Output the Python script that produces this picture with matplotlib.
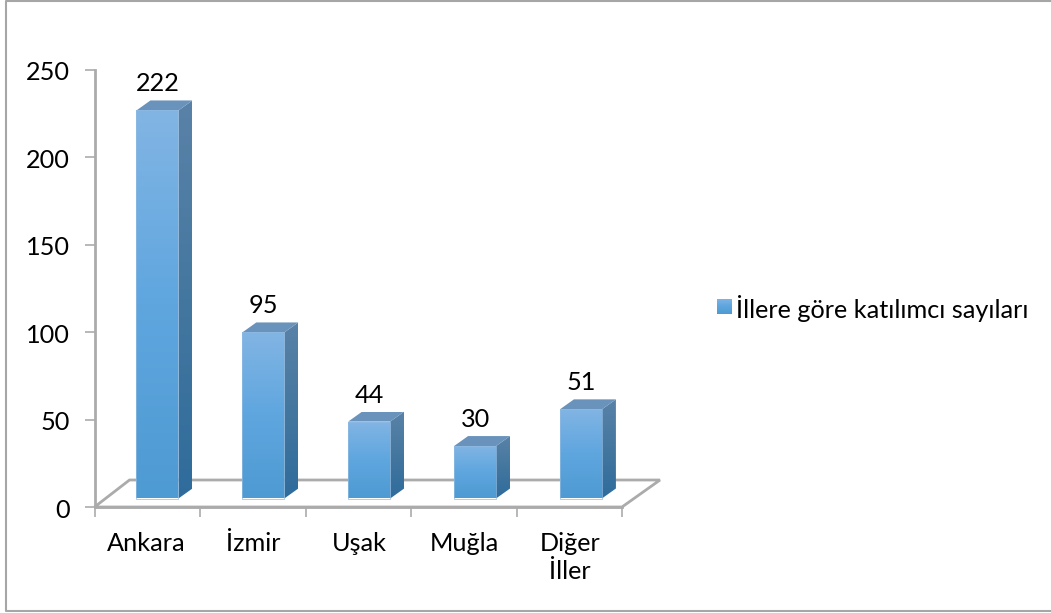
import numpy as np
import matplotlib
matplotlib.use("Agg")
import matplotlib.pyplot as plt
from matplotlib.colors import LinearSegmentedColormap
from matplotlib.lines import Line2D
from matplotlib.patches import Polygon, Rectangle
from matplotlib.transforms import ScaledTranslation

categories = ["Ankara", "İzmir", "Uşak", "Muğla", "Diğer\nİller"]
values = [222, 95, 44, 30, 51]
y_ticks = [0, 50, 100, 150, 200, 250]
series_name = "İllere göre katılımcı sayıları"
label_nudge_px = [1, 3, 3, 3, 3]

W, H = 1051, 613
FONT = "Lato"
GRAY = "#ABABAB"

fig = plt.figure(figsize=(W / 100, H / 100), dpi=100)
fig.patch.set_facecolor("white")

# frame: top, left and bottom edges only
fx = [W / W, 5.5 / W, 5.5 / W, W / W]
fy = [1 - 0.8 / H, 1 - 0.8 / H, 1 - 611 / H, 1 - 611 / H]
fig.add_artist(Line2D(fx, fy, color="#A6A6A6", lw=1.5, transform=fig.transFigure))

left, right, bottom, top = 94.5, 622, 507, 70
ax = fig.add_axes([left / W, 1 - bottom / H, (right - left) / W, (bottom - top) / H])
ax.set_xlim(-0.5, 4.5)
ax.set_ylim(0, 250)
ax.patch.set_visible(False)
for s in ("top", "right"):
    ax.spines[s].set_visible(False)
for s in ("left", "bottom"):
    ax.spines[s].set_color(GRAY)
    ax.spines[s].set_linewidth(2.0)
    ax.spines[s].set_zorder(1)

ax.set_yticks(y_ticks)
ax.set_xticks(np.arange(-0.5, 5, 1), labels=[])
ax.tick_params(axis="both", color=GRAY, width=1.2, length=7, labelsize=18.2,
               labelcolor="black", pad=3)
ax.tick_params(axis="y", pad=10.5)
down = ScaledTranslation(0, -1 / 100, fig.dpi_scale_trans)
for lab in ax.get_yticklabels():
    lab.set_fontfamily(FONT)
    lab.set_transform(lab.get_transform() + down)

px = 1 / ((right - left) / 5)
py = 250 / (bottom - top)
for i, c in enumerate(categories):
    ax.text(i - 0.02 + label_nudge_px[i] * px, -14.5, c, ha="center", va="top", fontsize=18.2,
            family=FONT, linespacing=1.25)

ax.add_patch(Polygon([(-0.5, 0), (-0.5 + 35 * px, 27 * py), (4.5 + 38 * px, 27 * py), (4.5, 0)],
                     closed=True, fill=False, ec=GRAY, lw=2.0, clip_on=False, zorder=1))

bar_w = 42 * px
bar_off = 10 * px
base = 8.5 * py
dx, dy = 14 * px, 10 * py
spacing = 1.0035

front = LinearSegmentedColormap.from_list("f", ["#4E9AD2", "#5FA6DF", "#82B5E4"])
side = LinearSegmentedColormap.from_list("s", ["#2F6C9C", "#44779F", "#5A82A8"])
topc = LinearSegmentedColormap.from_list("t", ["#6A93BC", "#6A93BC"])
grad = np.linspace(0, 1, 256).reshape(-1, 1)


def face(pts, cmap, z):
    pts = np.array(pts)
    x0, x1 = pts[:, 0].min(), pts[:, 0].max()
    y0, y1 = pts[:, 1].min(), pts[:, 1].max()
    im = ax.imshow(grad, origin="lower", extent=(x0, x1, y0, y1), aspect="auto", cmap=cmap,
                   vmin=0, vmax=1, zorder=z, interpolation="bilinear")
    im.set_clip_path(Polygon(pts, closed=True, transform=ax.transData))


for i, v in enumerate(values):
    xc = (i + 0.5) * spacing - 0.5 + bar_off
    x0 = xc - bar_w / 2
    x1 = x0 + bar_w
    y0, y1 = base, base + v
    face([(x1, y0), (x1 + dx, y0 + dy), (x1 + dx, y1 + dy), (x1, y1)], side, 3)
    face([(x0, y1), (x1, y1), (x1 + dx, y1 + dy), (x0 + dx, y1 + dy)], topc, 3)
    face([(x0, y0), (x1, y0), (x1, y1), (x0, y1)], front, 4)
    ax.add_patch(Rectangle((x0, y0), bar_w, v, fill=False, ec="#8FBBE3", lw=0.5, zorder=5))
    ax.text(xc, y1 + dy + 5 * py, str(v), ha="center", va="bottom", fontsize=18.2,
            family=FONT, color="black", zorder=6)

ax.set_xlim(-0.5, 4.5)
ax.set_ylim(0, 250)

# legend
lax = fig.add_axes([717 / W, 1 - 314.5 / H, 15 / W, 16 / H])
lax.imshow(grad, origin="lower", aspect="auto", cmap=front)
lax.axis("off")
fig.text(736 / W, 1 - 308 / H, series_name, ha="left", va="center", fontsize=18.2, family=FONT)

fig.savefig("out.png", dpi=100)
